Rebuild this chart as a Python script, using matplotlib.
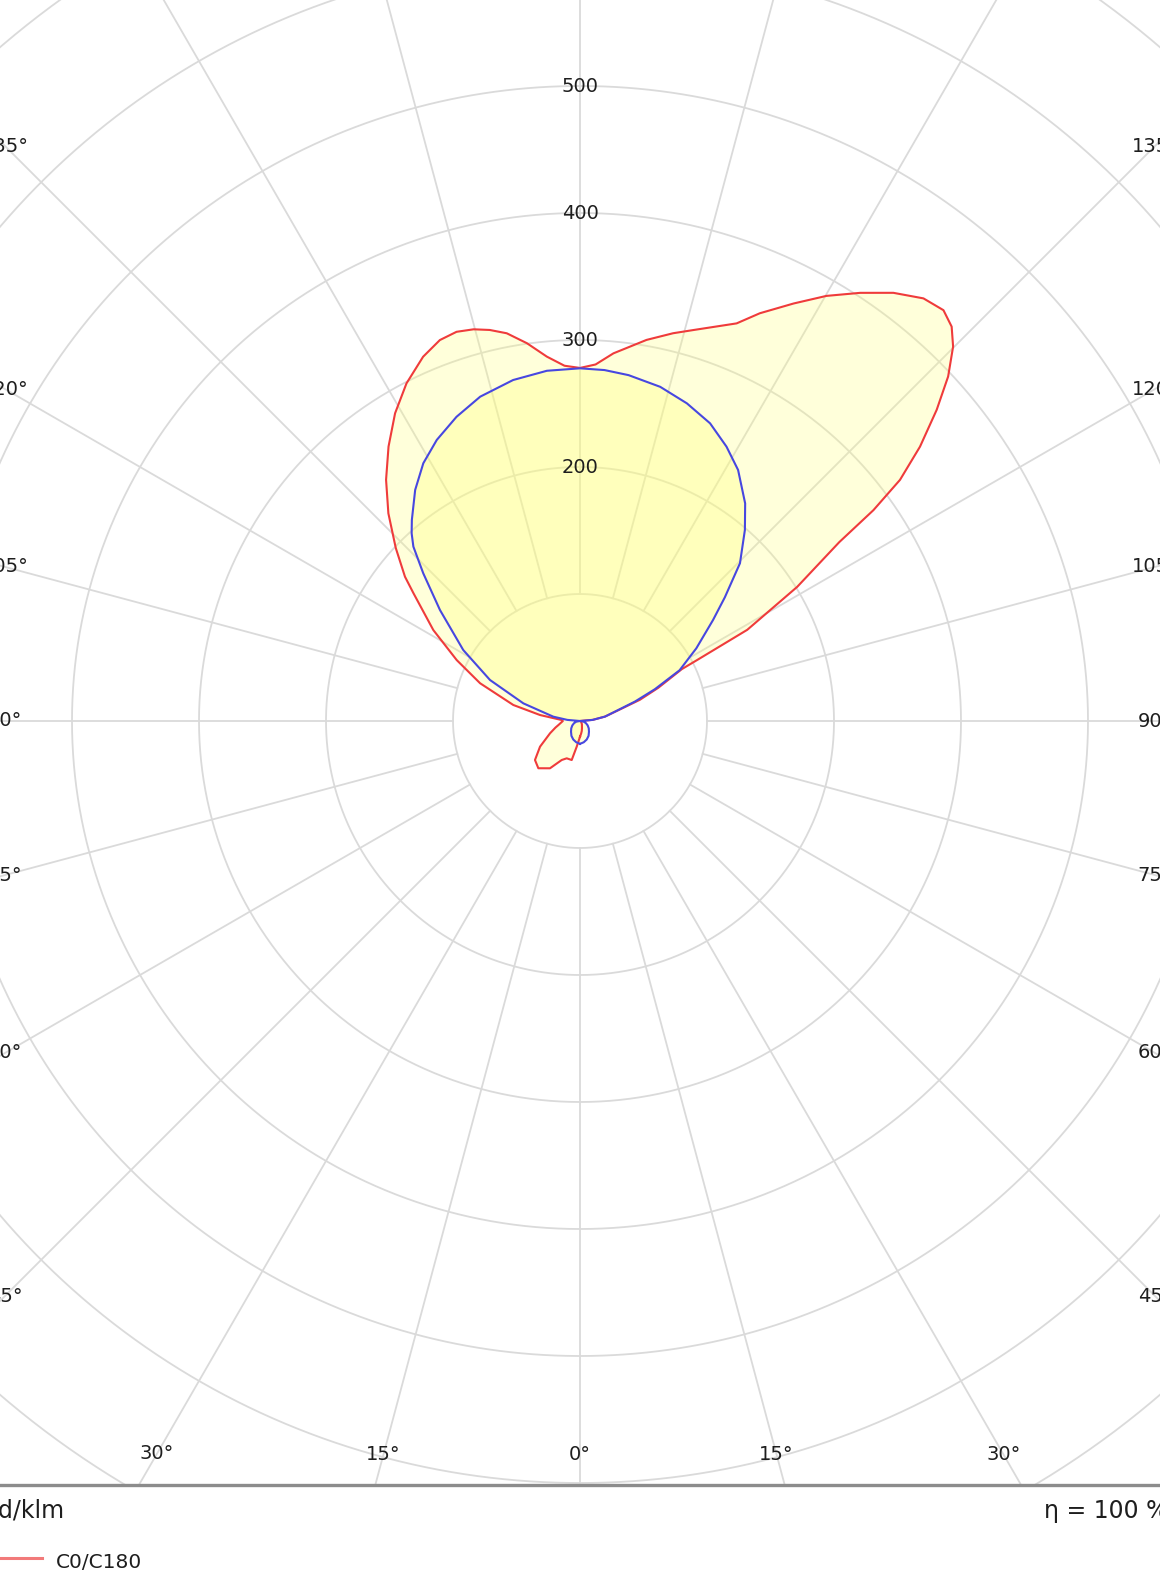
import numpy as np
import matplotlib
matplotlib.use("Agg")
import matplotlib.pyplot as plt

# luminous intensity, cd/klm, gamma in degrees (0 = straight down)
# C0 half (right side)
gamma_c0 = [0, 5, 10, 15, 20, 30, 45, 60, 75, 90, 95, 100, 105.6, 109.5, 113,
            117, 117.5, 118.6, 121.7, 124.6, 125.7, 127, 128.9, 131.1, 133.1,
            135.1, 136.7, 138.5, 140.9, 143.8, 146.8, 149.9, 152.9, 156.2,
            158.5, 163.8, 166.5, 170.1, 174.8, 177.5, 180]
i_c0 = [12.4, 10, 8, 6, 4.5, 3, 1.5, 0.8, 0.3, 0, 10, 20, 31, 50, 67,
        90, 104, 150, 201, 248, 284.5, 315.5, 344, 372.7, 397,
        416.2, 426.7, 431.9, 428.8, 417.8, 402.9, 386.9, 369.3, 350.9,
        336.5, 320.6, 314, 304.6, 290.7, 281, 278]

# C180 half (left side)
gamma_c180 = [0, 7.3, 12, 19.6, 25.1, 32.4, 41.4, 49.1, 57.3, 67.7, 75, 80, 85,
              90, 93, 98.5, 103.5, 110.7, 116.3, 121.8, 127.5, 129.5, 133.2,
              137.3, 141.2, 145.1, 149, 152.8, 156.7, 159.8, 162.4, 164.8, 167,
              169.3, 172, 174.8, 177.5, 180]
i_c180 = [12.4, 20.4, 31.4, 31.2, 33.9, 44.1, 49.6, 46.9, 37.4, 25.5, 20, 17, 15,
          13.5, 14.4, 31.8, 54, 84.1, 108.3, 135.9, 165.3, 178.6, 199,
          222.5, 243.7, 263.5, 282.7, 298.9, 312.3, 319.6, 321.5, 319.6, 316,
          310.7, 300.4, 288.1, 280, 278]

# C90 half (right side)
gamma_c90 = [0, 10, 20, 30, 40, 50, 60, 70, 80, 90, 95, 100, 105.6, 109.5, 113,
             117, 122, 127.2, 130.5, 134.6, 139.2, 142.8, 147.8, 151.9, 156.4,
             161.4, 166.5, 172, 176, 180]
i_c90 = [18, 17, 15.5, 13.5, 11, 9, 7, 5, 3, 0, 10, 20, 30, 46, 64,
         88, 108, 131.5, 150, 176.9, 198.7, 215.1, 233.6, 244.9, 255.8,
         263.9, 270.6, 275, 277, 277.7]

# C270 half (left side)
gamma_c270 = [0, 10, 20, 30, 40, 50, 60, 70, 80, 90, 95, 99.2, 107.3, 114.5,
              121.3, 128.4, 133.3, 136.3, 138.1, 140.1, 144.5, 148.7, 153, 157.9,
              162.9, 168.9, 174.6, 180]
i_c270 = [18, 17, 15.5, 13.5, 11, 9, 7, 5, 3, 0, 10, 21.3, 46.7, 77.9,
          107.6, 140.7, 169.6, 189.9, 198.5, 206.4, 223.5, 237.5, 248.4, 258.5,
          267.2, 273.6, 277, 277.7]

ring_values = [100, 200, 300, 400, 500, 600, 700, 800]
ring_labels = [200, 300, 400, 500]
angle_ticks = list(range(0, 181, 15))

W, H = 1160, 1582
cx, cy = 580, 721          # centre of the diagram, px from top-left
px_per_unit = 1.27
rmax = 800
line_y = 1485              # gray separator line

fig = plt.figure(figsize=(W / 100, H / 100), dpi=100)
fig.patch.set_facecolor("white")

rad_px = rmax * px_per_unit
ax = fig.add_axes([(cx - rad_px) / W, (H - cy - rad_px) / H,
                   2 * rad_px / W, 2 * rad_px / H], projection="polar")
ax.set_theta_zero_location("S")
ax.set_theta_direction(1)
ax.set_ylim(0, rmax)
ax.grid(False)
ax.set_xticks([])
ax.set_yticks([])
ax.spines["polar"].set_visible(False)

grid_col = "#dadada"
tt = np.linspace(0, 2 * np.pi, 1441)
for rv in ring_values:
    ax.plot(tt, np.full_like(tt, rv), color=grid_col, lw=1.3, zorder=1)
for a in range(0, 360, 15):
    th = np.radians(a)
    ax.plot([th, th], [100, rmax], color=grid_col, lw=1.3, zorder=1)

# curves: right half counter-clockwise from the bottom, left half mirrored
th_red = np.concatenate([np.radians(gamma_c0), -np.radians(gamma_c180[::-1])])
r_red = np.concatenate([i_c0, i_c180[::-1]])
th_blue = np.concatenate([np.radians(gamma_c90), -np.radians(gamma_c270[::-1])])
r_blue = np.concatenate([i_c90, i_c270[::-1]])

ax.fill(th_red, r_red, color="#ffff78", alpha=0.27, lw=0, zorder=2)
ax.fill(th_blue, r_blue, color="#ffff78", alpha=0.30, lw=0, zorder=2)
ax.plot(th_red, r_red, color="#ef3b3b", lw=1.5, zorder=4)
ax.plot(th_blue, r_blue, color="#4747e0", lw=1.5, zorder=5)

txt_col = "#1e1e1e"
for rv in ring_labels:
    ax.text(np.pi, rv, str(rv), ha="center", va="center", fontsize=14,
            color=txt_col, zorder=6)

# angle labels sit where each spoke meets a box around the diagram
half_w = 575 / px_per_unit
below = 733 / px_per_unit
top_lim = cy / px_per_unit
for g in angle_ticks:
    gr = np.radians(g)
    cands = []
    if np.sin(gr) > 1e-9:
        cands.append(half_w / np.sin(gr))
    if np.cos(gr) > 1e-9:
        cands.append(below / np.cos(gr))
    if not cands:
        continue
    t = min(cands)
    if -t * np.cos(gr) > top_lim - 10:
        continue
    sides = [1] if g == 0 else [1, -1]
    for s in sides:
        ax.text(s * gr, t, f"{g}°", ha="center", va="center", fontsize=14,
                color=txt_col, clip_on=False, zorder=6)

# bottom strip
bax = fig.add_axes([0, 0, 1, (H - line_y) / H])
bax.set_xlim(0, W)
bax.set_ylim(H, line_y)
bax.set_facecolor("white")
bax.set_xticks([])
bax.set_yticks([])
for k in ["left", "right", "bottom"]:
    bax.spines[k].set_visible(False)
bax.spines["top"].set_color("#8c8c8c")
bax.spines["top"].set_linewidth(2.4)

bax.text(-14, 1510, "cd/klm", ha="left", va="center", fontsize=17, color=txt_col)
bax.text(1044, 1511, "η = 100 %", ha="left", va="center", fontsize=17, color=txt_col)
bax.plot([0, 42], [1558, 1558], color="#f27a7a", lw=2.2, clip_on=False)
bax.text(56, 1562, "C0/C180", ha="left", va="center", fontsize=14.5, color=txt_col)

fig.savefig("out.png", dpi=100)
